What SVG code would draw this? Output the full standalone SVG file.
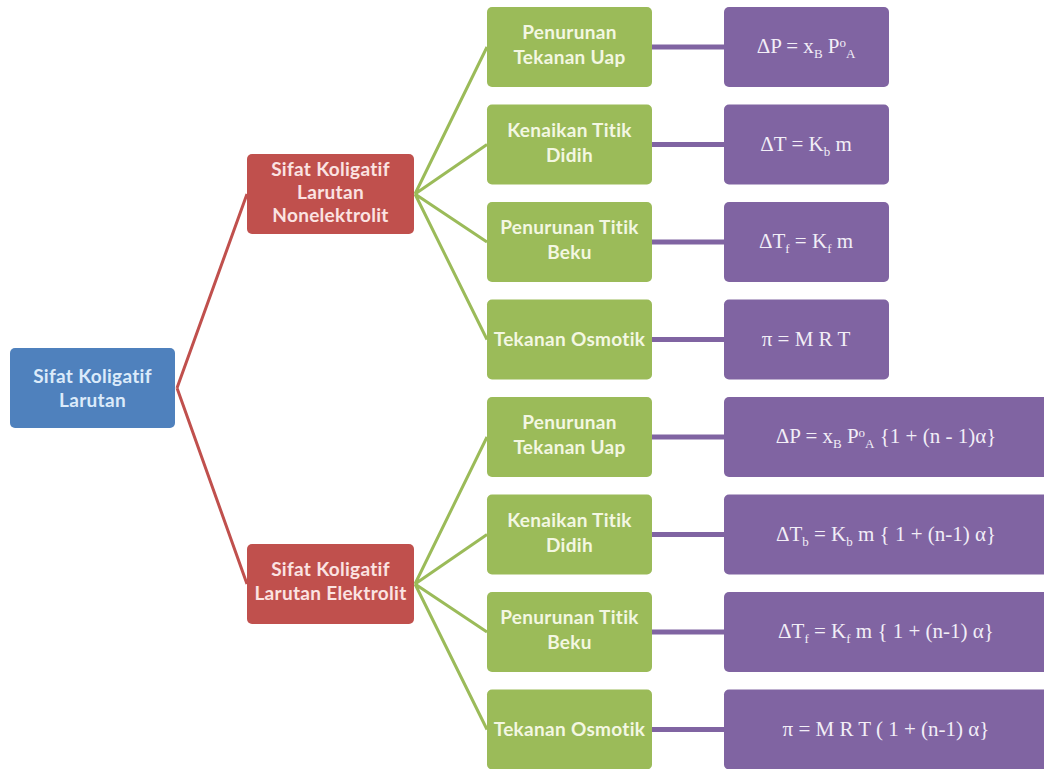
<svg xmlns="http://www.w3.org/2000/svg" width="1044" height="769" viewBox="0 0 1044 769">
<defs>
<style>
.blue{fill:#4F81BD}
.red{fill:#C0504D}
.green{fill:#9BBB59}
.purple{fill:#8064A2}
.lbl{font-family:Lato,"Open Sans","Liberation Sans",sans-serif;font-weight:bold;font-size:19px;letter-spacing:0.3px;text-anchor:middle}
.tb{fill:#DCEBFA}
.tr{fill:#FBE3E2}
.tg{fill:#F3F7E2}
.f{font-family:"Liberation Serif","DejaVu Serif",serif;font-size:21px;fill:#F2EEF7;text-anchor:middle}
.s{font-size:13px}
.lr{stroke:#C0504D;stroke-width:3;fill:none}
.lg{stroke:#9BBB59;stroke-width:3;fill:none}
.lp{stroke:#8064A2;stroke-width:5;fill:none}
</style>
</defs>
<rect width="1044" height="769" fill="#FFFFFF"/>
<g id="connectors">
<path class="lr" d="M177 388 L247 194 M177 388 L247 584"/>
<path class="lg" d="M415 194 L487 47 M415 194 L487 144.5 M415 194 L487 242 M415 194 L487 339.5"/>
<path class="lg" d="M415 584 L487 437 M415 584 L487 534.5 M415 584 L487 632 M415 584 L487 729.5"/>
<path class="lp" d="M652 47 H724 M652 144.5 H724 M652 242 H724 M652 339.5 H724 M652 437 H724 M652 534.5 H724 M652 632 H724 M652 729.5 H724"/>
</g>
<g id="root">
<rect class="blue" x="10" y="348" width="165" height="80" rx="5"/>
<text class="lbl tb" x="92.5" y="383">Sifat Koligatif</text>
<text class="lbl tb" x="92.5" y="407">Larutan</text>
</g>
<g id="nonelektrolit">
<rect class="red" x="247" y="154" width="167" height="80" rx="5"/>
<text class="lbl tr" x="330.5" y="176">Sifat Koligatif</text>
<text class="lbl tr" x="330.5" y="199">Larutan</text>
<text class="lbl tr" x="330.5" y="222">Nonelektrolit</text>
</g>
<g id="elektrolit">
<rect class="red" x="247" y="544" width="167" height="80" rx="5"/>
<text class="lbl tr" x="330.5" y="576">Sifat Koligatif</text>
<text class="lbl tr" x="330.5" y="600">Larutan Elektrolit</text>
</g>
<g id="g1"><rect class="green" x="487" y="7" width="165" height="80" rx="5"/>
<text class="lbl tg" x="569.5" y="39">Penurunan</text><text class="lbl tg" x="569.5" y="64">Tekanan Uap</text></g>
<g id="g2"><rect class="green" x="487" y="104.5" width="165" height="80" rx="5"/>
<text class="lbl tg" x="569.5" y="136.5">Kenaikan Titik</text><text class="lbl tg" x="569.5" y="161.5">Didih</text></g>
<g id="g3"><rect class="green" x="487" y="202" width="165" height="80" rx="5"/>
<text class="lbl tg" x="569.5" y="234">Penurunan Titik</text><text class="lbl tg" x="569.5" y="259">Beku</text></g>
<g id="g4"><rect class="green" x="487" y="299.5" width="165" height="80" rx="5"/>
<text class="lbl tg" x="569.5" y="346">Tekanan Osmotik</text></g>
<g id="g5"><rect class="green" x="487" y="397" width="165" height="80" rx="5"/>
<text class="lbl tg" x="569.5" y="429">Penurunan</text><text class="lbl tg" x="569.5" y="454">Tekanan Uap</text></g>
<g id="g6"><rect class="green" x="487" y="494.5" width="165" height="80" rx="5"/>
<text class="lbl tg" x="569.5" y="526.5">Kenaikan Titik</text><text class="lbl tg" x="569.5" y="551.5">Didih</text></g>
<g id="g7"><rect class="green" x="487" y="592" width="165" height="80" rx="5"/>
<text class="lbl tg" x="569.5" y="624">Penurunan Titik</text><text class="lbl tg" x="569.5" y="649">Beku</text></g>
<g id="g8"><rect class="green" x="487" y="689.5" width="165" height="80" rx="5"/>
<text class="lbl tg" x="569.5" y="736">Tekanan Osmotik</text></g>
<g id="p1"><rect class="purple" x="724" y="7" width="165" height="80" rx="5"/>
<text class="f" x="806" y="53">ΔP = x<tspan class="s" dy="5">B</tspan><tspan dy="-5"> P</tspan><tspan class="s" dy="-6">o</tspan><tspan class="s" dy="11">A</tspan></text></g>
<g id="p2"><rect class="purple" x="724" y="104.5" width="165" height="80" rx="5"/>
<text class="f" x="806" y="150.5">ΔT = K<tspan class="s" dy="5">b</tspan><tspan dy="-5"> m</tspan></text></g>
<g id="p3"><rect class="purple" x="724" y="202" width="165" height="80" rx="5"/>
<text class="f" x="806" y="248">ΔT<tspan class="s" dy="5">f</tspan><tspan dy="-5"> = K</tspan><tspan class="s" dy="5">f</tspan><tspan dy="-5"> m</tspan></text></g>
<g id="p4"><rect class="purple" x="724" y="299.5" width="165" height="80" rx="5"/>
<text class="f" x="806" y="345.5">π = M R T</text></g>
<g id="p5"><rect class="purple" x="724" y="397" width="330" height="80" rx="5"/>
<text class="f" x="886" y="443">ΔP = x<tspan class="s" dy="5">B</tspan><tspan dy="-5"> P</tspan><tspan class="s" dy="-6">o</tspan><tspan class="s" dy="11">A</tspan><tspan dy="-5"> {1 + (n - 1)α}</tspan></text></g>
<g id="p6"><rect class="purple" x="724" y="494.5" width="330" height="80" rx="5"/>
<text class="f" x="886" y="540.5">ΔT<tspan class="s" dy="5">b</tspan><tspan dy="-5"> = K</tspan><tspan class="s" dy="5">b</tspan><tspan dy="-5"> m { 1 + (n-1) α}</tspan></text></g>
<g id="p7"><rect class="purple" x="724" y="592" width="330" height="80" rx="5"/>
<text class="f" x="886" y="638">ΔT<tspan class="s" dy="5">f</tspan><tspan dy="-5"> = K</tspan><tspan class="s" dy="5">f</tspan><tspan dy="-5"> m { 1 + (n-1) α}</tspan></text></g>
<g id="p8"><rect class="purple" x="724" y="689.5" width="330" height="80" rx="5"/>
<text class="f" x="886" y="735.5">π = M R T ( 1 + (n-1) α}</text></g>
</svg>
